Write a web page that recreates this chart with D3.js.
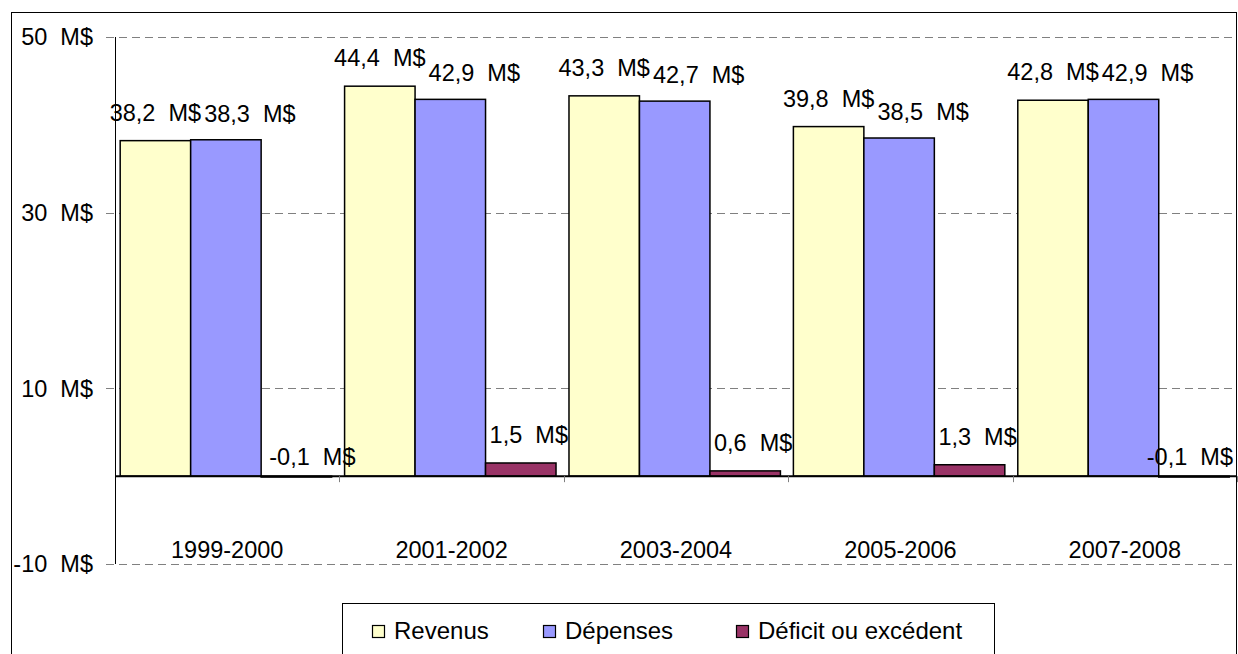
<!DOCTYPE html>
<html>
<head>
<meta charset="utf-8">
<script src="https://cdn.jsdelivr.net/npm/d3@7"></script>
<style>
  body { margin: 0; background: #fff; }
  text { font-family: "Liberation Sans", Arial, sans-serif; font-size: 23.5px; fill: #000; }
</style>
</head>
<body>
<div id="chart"></div>
<script>
//Data
var categories = ["1999-2000", "2001-2002", "2003-2004", "2005-2006", "2007-2008"];
var seriesNames = ["Revenus", "Dépenses", "Déficit ou excédent"];
var revenus = [38.2, 44.4, 43.3, 39.8, 42.8];
var depenses = [38.3, 42.9, 42.7, 38.5, 42.9];
var deficit = [-0.1, 1.5, 0.6, 1.3, -0.1];
var yTicks = [-10, 10, 30, 50];
var colors = ["#FFFFCC", "#9999FF", "#993366"];

var seriesValues = [revenus, depenses, deficit];

//Define SVG
var width = 1238, height = 654;
var plot = {left: 115, right: 1237, top: 37, bottom: 564};

var svg = d3.select("div#chart")
    .append("svg")
    .attr("width", width)
    .attr("height", height);

//outer frame
svg.append("rect")
    .attr("x", 11.5).attr("y", 12.5)
    .attr("width", 1225).attr("height", 660)
    .attr("fill", "none")
    .attr("stroke", "#000")
    .attr("stroke-width", 1);

//Define Scales
var yScale = d3.scaleLinear()
    .domain([-10, 50])
    .range([plot.bottom, plot.top]);

var x0 = d3.scaleBand()
    .domain(categories)
    .range([plot.left, plot.right]);

var x1 = d3.scaleBand()
    .domain(seriesNames)
    .range([0, x0.bandwidth()])
    .paddingInner(0)
    .paddingOuter(0.092)
    .align(0.4);

//gridlines
svg.append("g")
    .selectAll("line")
    .data(yTicks)
    .enter().append("line")
    .attr("x1", plot.left - 9)
    .attr("x2", plot.right)
    .attr("y1", function(d) { return Math.round(yScale(d)) + 0.5; })
    .attr("y2", function(d) { return Math.round(yScale(d)) + 0.5; })
    .attr("stroke", "#808080")
    .attr("stroke-width", 1)
    .attr("stroke-dasharray", "8,5");

//y labels
svg.append("g")
    .selectAll("text")
    .data(yTicks)
    .enter().append("text")
    .attr("x", 93)
    .attr("y", function(d) { return yScale(d); })
    .attr("dy", "0.36em")
    .attr("text-anchor", "end")
    .attr("xml:space", "preserve")
    .text(function(d) { return d + "  M$"; });

//y axis line
svg.append("line")
    .attr("x1", plot.left + 0.5).attr("x2", plot.left + 0.5)
    .attr("y1", plot.top).attr("y2", plot.bottom)
    .attr("stroke", "#000");

//Bars
var points = [];
categories.forEach(function(c, i) {
    seriesNames.forEach(function(s, j) {
        points.push({cat: c, series: s, idx: j, value: seriesValues[j][i]});
    });
});

var barX = function(d) { return x0(d.cat) + x1(d.series); };

svg.append("g")
    .selectAll("rect")
    .data(points)
    .enter().append("rect")
    .attr("x", barX)
    .attr("y", function(d) { return yScale(Math.max(0, d.value)); })
    .attr("width", x1.bandwidth())
    .attr("height", function(d) { return Math.abs(yScale(d.value) - yScale(0)); })
    .attr("fill", function(d) { return colors[d.idx]; })
    .attr("stroke", "#000")
    .attr("stroke-width", 1.5);

//zero line
svg.append("line")
    .attr("x1", plot.left).attr("x2", plot.right)
    .attr("y1", yScale(0)).attr("y2", yScale(0))
    .attr("stroke", "#000")
    .attr("stroke-width", 2);

//category boundary ticks
svg.append("g")
    .selectAll("line")
    .data(categories)
    .enter().append("line")
    .attr("x1", function(d) { return Math.round(x0(d) + x0.bandwidth()) + 0.5; })
    .attr("x2", function(d) { return Math.round(x0(d) + x0.bandwidth()) + 0.5; })
    .attr("y1", yScale(0))
    .attr("y2", yScale(0) + 6)
    .attr("stroke", "#808080");

//value labels (drawn above all bars, nudged right like the Excel original)
var labelDx = [0, 24, 8];
var labelGap = [20, 18, 20];
var fmt = function(v) { return String(v).replace(".", ",") + "  M$"; };
svg.append("g")
    .selectAll("text")
    .data(points)
    .enter().append("text")
    .attr("xml:space", "preserve")
    .attr("x", function(d) {
        var c = barX(d) + x1.bandwidth() / 2;
        return d.value < 0 ? c + 16 : c + labelDx[d.idx];
    })
    .attr("y", function(d) { return d.value < 0 ? yScale(0) - 11 : yScale(d.value) - labelGap[d.idx]; })
    .attr("text-anchor", "middle")
    .text(function(d) { return fmt(d.value); })
    .each(function() {
        // keep labels inside the plot frame
        var b = this.getBBox();
        var over = b.x + b.width - (plot.right - 4);
        if (over > 0) d3.select(this).attr("x", +d3.select(this).attr("x") - over);
    });

//category labels
svg.append("g")
    .selectAll("text")
    .data(categories)
    .enter().append("text")
    .attr("x", function(d) { return x0(d) + x0.bandwidth() / 2; })
    .attr("y", 558)
    .attr("text-anchor", "middle")
    .text(function(d) { return d; });

//Legend
var legend = svg.append("g");
legend.append("rect")
    .attr("x", 342.5).attr("y", 603.5)
    .attr("width", 652).attr("height", 70)
    .attr("fill", "#fff")
    .attr("stroke", "#000");

var legendX = [372, 543, 736];
var items = legend.selectAll("g.item")
    .data(seriesNames)
    .enter().append("g")
    .attr("class", "item")
    .attr("transform", function(d, i) { return "translate(" + legendX[i] + ",0)"; });

items.append("rect")
    .attr("x", 0.5).attr("y", 625.5)
    .attr("width", 12).attr("height", 12)
    .attr("fill", function(d, i) { return colors[i]; })
    .attr("stroke", "#000")
    .attr("stroke-width", 1.2);

items.append("text")
    .attr("x", 22)
    .attr("y", 639)
    .style("font-size", "24px")
    .text(function(d) { return d; });
</script>
</body>
</html>
